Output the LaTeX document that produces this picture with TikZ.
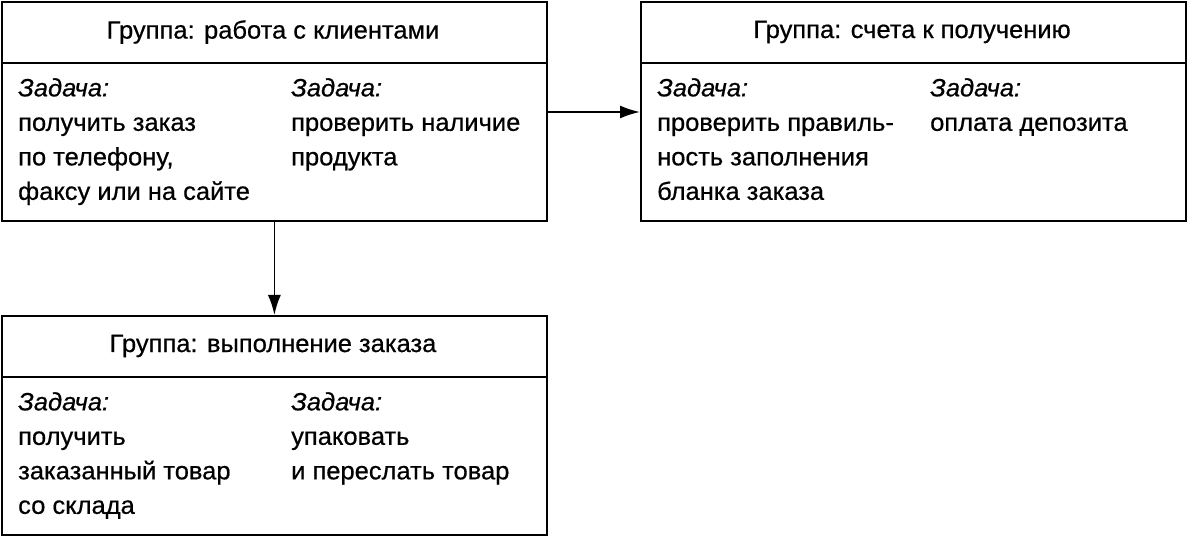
\documentclass[tikz,border=0pt]{standalone}
\usepackage{fontspec}
\setmainfont{Liberation Sans}[FakeStretch=1.02,FakeBold=0.6]
\usetikzlibrary{arrows.meta}
\begin{document}
\begin{tikzpicture}[x=1pt,y=-1pt,
  box/.style={draw,line width=1.8pt,minimum width=545pt,minimum height=219pt,anchor=north west,inner sep=0},
  head/.style={font=\fontsize{25}{34}\selectfont,anchor=center},
  txt/.style={font=\fontsize{25}{34.5}\selectfont,anchor=north west,align=left,inner sep=0},
  arr/.style={line width=1.8pt,-{Latex[length=20pt,width=13pt]}}]
\useasboundingbox (0,0) rectangle (1187,537);
\node[box] (b1) at (1,1) {};
\node[box] (b2) at (640,1) {};
\node[box] (b3) at (1,315) {};
\draw[line width=1.8pt] (1,63) -- (546,63) (640,63) -- (1185,63) (1,377) -- (546,377);
\node[head] (h1) at (273,32) {Группа: работа с клиентами};
\node[head] (h2) at (912,32) {Группа: счета к получению};
\node[head] (h3) at (273,346) {Группа: выполнение заказа};
\node[txt] (t11) at (18,78) {\textit{Задача:}\\получить заказ\\по телефону,\\факсу или на сайте};
\node[txt] (t12) at (291,78) {\textit{Задача:}\\проверить наличие\\продукта};
\node[txt] (t21) at (657,78) {\textit{Задача:}\\проверить правиль-\\ность заполнения\\бланка заказа};
\node[txt] (t22) at (930,78) {\textit{Задача:}\\оплата депозита};
\node[txt] (t31) at (18,392) {\textit{Задача:}\\получить\\заказанный товар\\со склада};
\node[txt] (t32) at (291,392) {\textit{Задача:}\\упаковать\\и переслать товар};
\draw[arr] (b1.east |- 0,112) -- (b2.west |- 0,112);
\draw[arr] (b1.south) -- (b3.north);
\end{tikzpicture}
\end{document}
